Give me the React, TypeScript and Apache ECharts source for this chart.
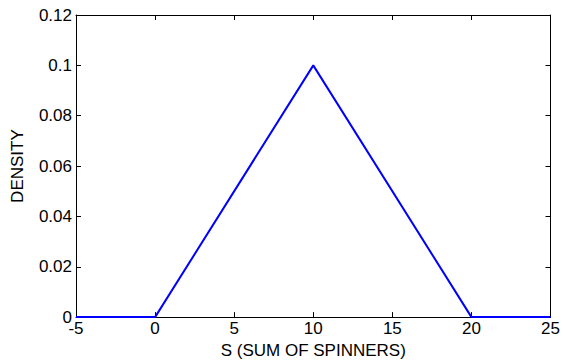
import React, { useEffect, useRef } from "react";
import * as echarts from "echarts";

const sValues = [-5, 0, 10, 20, 25];
const densityValues = [0, 0, 0.1, 0, 0];
const xTitle = "S (SUM OF SPINNERS)";
const yTitle = "DENSITY";

export default function App() {
  const ref = useRef<HTMLDivElement>(null);
  useEffect(() => {
    if (!ref.current) return;
    const chart = echarts.init(ref.current, null, { renderer: "svg" });
    const font = "Liberation Sans, Arial, sans-serif";
    const axisLine = { show: true, onZero: false, lineStyle: { color: "#000", width: 1 } };
    const tick = { show: true, inside: true, length: 5, lineStyle: { color: "#000" } };
    const label = { color: "#000", fontSize: 17, fontFamily: font };
    chart.setOption({
      animation: false,
      backgroundColor: "#fff",
      grid: { left: 76, right: 11, top: 15, bottom: 45, containLabel: false },
      xAxis: [
        {
          type: "value", min: -5, max: 25, interval: 5, position: "bottom",
          name: xTitle, nameLocation: "middle", nameGap: 20,
          nameTextStyle: { color: "#000", fontSize: 17, fontFamily: font },
          axisLine, axisTick: tick, axisLabel: { ...label, margin: 3 }, splitLine: { show: false },
        },
        {
          type: "value", min: -5, max: 25, interval: 5, position: "top",
          axisLine, axisTick: tick, axisLabel: { show: false }, splitLine: { show: false },
        },
      ],
      yAxis: [
        {
          type: "value", min: 0, max: 0.12, interval: 0.02, position: "left",
          name: yTitle, nameLocation: "middle", nameGap: 50,
          nameTextStyle: { color: "#000", fontSize: 17, fontFamily: font },
          axisLine, axisTick: tick,
          axisLabel: { ...label, margin: 4, formatter: (v: number) => String(parseFloat(v.toFixed(2))) },
          splitLine: { show: false },
        },
        {
          type: "value", min: 0, max: 0.12, interval: 0.02, position: "right",
          axisLine, axisTick: tick, axisLabel: { show: false }, splitLine: { show: false },
        },
      ],
      series: [
        {
          type: "line",
          data: sValues.map((s, i) => [s, densityValues[i]]),
          symbol: "none",
          lineStyle: { color: "#0000ff", width: 2 },
          z: 1,
        },
      ],
    });
    return () => chart.dispose();
  }, []);
  return <div ref={ref} style={{ width: 563, height: 364, position: "absolute", left: 0, top: 0 }} />;
}
